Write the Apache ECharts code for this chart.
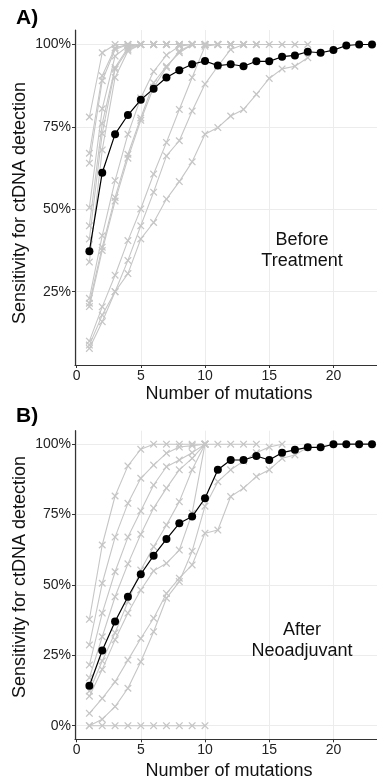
<!DOCTYPE html>
<html><head><meta charset="utf-8">
<script src="https://cdn.jsdelivr.net/npm/echarts@6/dist/echarts.min.js"></script>
<style>html,body{margin:0;padding:0;background:#fff}#c{width:377px;height:782px}</style>
</head><body><div id="c"></div>
<script>
// ---- data ----
const nMutations = [1,2,3,4,5,6,7,8,9,10,11,12,13,14,15,16,17,18,19,20,21,22,23];
const xTicks = [0,5,10,15,20];
const yTicksA = [25,50,75,100];
const yTicksB = [0,25,50,75,100];

// Panel A: before treatment
const beforeMean = [37.3,61.1,72.8,78.6,83.2,86.6,90.0,92.2,94.0,95.0,93.6,94.0,93.4,94.9,94.9,96.3,96.7,97.8,97.5,98.3,99.7,100,100];
const beforeP1 = [78,97.5,100,100,100,100,100,100,100,100,100,100,100,100,100,100,100,100];
const beforeP2 = [67,90.5,99,100,100,100,100,100,100,100,100,100,100,100];
const beforeP3 = [64,89,98.5,100,100,100,100,100,100,100,100,100];
const beforeP4 = [50.5,80.5,96.5,99.5,100,100,100,100,100,100];
const beforeP5 = [45,76,93,99,100,100,100,100];
const beforeP6 = [41,73,92.5,98.5,100,100];
const beforeP7 = [34,68,90,98,100];
const beforeP8 = [23,42,58.7,72.8,83.8,91.8,96.8,99.5,100,100,100];
const beforeP9 = [21.5,38.5,53.6,66.7,77.7,88.4,93.4,97.5,100];
const beforeP10 = [20.5,37.5,52.5,65.5,77,87,93,98,100,100,100,100,100];
const beforeP11 = [10,20.4,30,40.5,50.1,60.7,70.3,80.3,90,99.5,100,100];
const beforeP12 = [8.8,17.9,25,34.5,45,55.2,66.2,70.8,79.8,88,93.4,98.5,100,100];
const beforeP13 = [7.8,15.9,25,30.5,41,46,53.1,58.4,64.4,72.8,74.8,78.3,80.3,84.9,89.7,92.6,93.4,96];

// Panel B: after neoadjuvant
const afterMean = [14.2,26.7,37,45.8,53.8,60.4,66.3,71.9,74.3,80.8,90.9,94.4,94.4,95.8,94.4,97,98,98.9,98.9,100,100,100,100];
const afterP1 = [37.8,64.2,81.6,92.3,98.2,100,100,100,100,100,100,100,100,100];
const afterP2 = [28.7,50.6,67,79,87.9,92.6,96.8,99,99.5,100];
const afterP3 = [21.6,40,54.7,67,76.3,85.5,92,94.4,97,100];
const afterP4 = [17,31.6,45.8,57.5,68,77.3,84.4,90.9,95,100];
const afterP5 = [12.3,23,33,44,55.3,63.6,71.3,79.6,90.9,100];
const afterP6 = [10.5,20,30.5,40,48.2,55,57.7,62.4,75.5,100];
const afterP7 = [4.4,9.7,15.6,23.3,31,38.2,47,52.4,57.1,68.4,69.5,81.4,84.4,88.5,90.9,95,96.2,98.9];
const afterP8 = [0,2.3,6.8,13.3,22.7,33.4,45.3,51.2,62,78,86.7,90.9,94,97,99,100];
const afterP9 = [0,0,0,0,0,0,0,0,0,0];

const beforeGray = [beforeP1,beforeP2,beforeP3,beforeP4,beforeP5,beforeP6,beforeP7,beforeP8,beforeP9,beforeP10,beforeP11,beforeP12,beforeP13];
const afterGray = [afterP1,afterP2,afterP3,afterP4,afterP5,afterP6,afterP7,afterP8,afterP9];

// ---- chart ----
const FONT = '"Liberation Sans", Arial, Helvetica, sans-serif';
const GRAY = '#c6c6c6';
const XSYM = 'path://M0,1.2L1.2,0L5,3.8L8.8,0L10,1.2L6.2,5L10,8.8L8.8,10L5,6.2L1.2,10L0,8.8L3.8,5Z';

function pts(vals){ return vals.map((v,i)=>[nMutations[i], v]); }
function graySeries(vals, g){
  return {type:'line', xAxisIndex:g, yAxisIndex:g, data:pts(vals), symbol:XSYM, symbolSize:7.5,
    showSymbol:true, lineStyle:{color:GRAY,width:1.1}, itemStyle:{color:GRAY}, z:2, silent:true};
}
function blackSeries(vals, g){
  return {type:'line', xAxisIndex:g, yAxisIndex:g, data:pts(vals), symbol:'circle', symbolSize:8,
    lineStyle:{color:'#000',width:1.2}, itemStyle:{color:'#000'}, z:5, silent:true};
}
function xAx(g){
  return {type:'value', gridIndex:g, min:-0.12, max:23.39,
    axisLine:{show:true, onZero:false, lineStyle:{color:'#333',width:1.2}},
    axisTick:{show:true, length:3, customValues:xTicks, lineStyle:{color:'#333'}},
    axisLabel:{customValues:xTicks, margin:4, fontSize:14, color:'#222', fontFamily:FONT},
    splitLine:{show:true, lineStyle:{color:'#ececec', width:1}}};
}
function yAx(g, mn, mx, ticks){
  return {type:'value', gridIndex:g, min:mn, max:mx,
    axisLine:{show:true, onZero:false, lineStyle:{color:'#333',width:1.2}},
    axisTick:{show:true, length:3, customValues:ticks, lineStyle:{color:'#333'}},
    axisLabel:{customValues:ticks, margin:4, fontSize:14, color:'#222', fontFamily:FONT, formatter:'{value}%'},
    splitLine:{show:true, lineStyle:{color:'#ececec', width:1}}};
}
function txt(x,y,t,opts){
  return Object.assign({type:'text', x:x, y:y, z:100, silent:true,
    style:Object.assign({text:t, fill:'#111', font:'18px '+FONT, align:'center', verticalAlign:'middle'}, opts||{})});
}

const series = [];
beforeGray.forEach(v=>series.push(graySeries(v,0)));
series.push(blackSeries(beforeMean,0));
afterGray.forEach(v=>series.push(graySeries(v,1)));
series.push(blackSeries(afterMean,1));

const chart = echarts.init(document.getElementById('c'), null, {renderer:'canvas'});
chart.setOption({
  animation:false,
  backgroundColor:'#fff',
  grid:[{left:75, top:30, width:302, height:335},{left:75, top:430.7, width:302, height:308.6}],
  xAxis:[xAx(0), xAx(1)],
  yAxis:[yAx(0, 2.76, 104.4, yTicksA), yAx(1, -4.83, 104.8, yTicksB)],
  series: series,
  graphic:{elements:[
    txt(16,18,'A)',{font:'bold 21px '+FONT, align:'left', fill:'#000'}),
    txt(16,416,'B)',{font:'bold 21px '+FONT, align:'left', fill:'#000'}),
    txt(229,394,'Number of mutations'),
    txt(229,771,'Number of mutations'),
    Object.assign(txt(20,203,'Sensitivity for ctDNA detection'),{rotation:Math.PI/2}),
    Object.assign(txt(20,577,'Sensitivity for ctDNA detection'),{rotation:Math.PI/2}),
    txt(302,240,'Before'),
    txt(302,261,'Treatment'),
    txt(302,630,'After'),
    txt(302,651,'Neoadjuvant')
  ]}
});
</script></body></html>
